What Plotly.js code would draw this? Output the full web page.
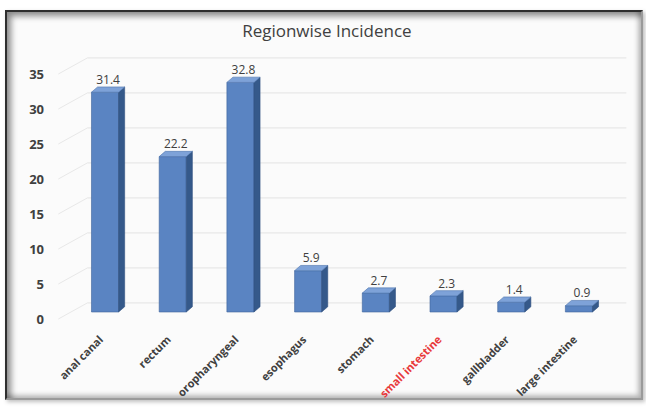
<!DOCTYPE html>
<html>
<head>
<meta charset="utf-8">
<script src="https://cdn.plot.ly/plotly-3.0.1.min.js"></script>
<style>
  html, body { margin: 0; padding: 0; background: #ffffff; }
  #wrap { position: relative; width: 646px; height: 408px; overflow: hidden; }
  #frame {
    position: absolute; left: 5px; top: 10px; width: 634px; height: 386px;
    border-left: 2px solid #2e2e2e; border-top: 2px solid #2e2e2e;
    border-right: 2px solid #9a9a9a; border-bottom: 2px solid #9a9a9a;
    background: #fbfbfb;
    box-shadow: inset 4px 4px 6px rgba(0,0,0,0.45), inset -3px -3px 5px rgba(0,0,0,0.25), 2px 2px 4px rgba(0,0,0,0.25);
  }
  #chart { position: absolute; left: 0; top: 0; width: 646px; height: 408px; }
</style>
</head>
<body>
<div id="wrap">
  <div id="frame"></div>
  <div id="chart"></div>
</div>
<script>
// ---- data ----
const categories = ["anal canal", "rectum", "oropharyngeal", "esophagus", "stomach", "small intestine", "gallbladder", "large intestine"];
const values = [31.4, 22.2, 32.8, 5.9, 2.7, 2.3, 1.4, 0.9];
const valueLabels = ["31.4", "22.2", "32.8", "5.9", "2.7", "2.3", "1.4", "0.9"];
const yTickValues = [0, 5, 10, 15, 20, 25, 30, 35];
const yTickLabels = ["0", "5", "10", "15", "20", "25", "30", "35"];
const highlightCategory = "small intestine";

// ---- 3D look parameters (styling) ----
const halfW = 0.2;     // half width of bar front face (x units)
const depthX = 0.09;   // depth offset in x
const depthY = 0.75;   // depth offset in y
const wallY = 1.3;     // back-wall offset of gridlines
const idx = categories.map((c, i) => i);

// side faces and top faces built from values
const sideX = [], sideY = [], topX = [], topY = [];
idx.forEach(i => {
  const v = values[i];
  sideX.push(i + halfW, i + halfW + depthX, i + halfW + depthX, i + halfW, i + halfW, null);
  sideY.push(0, depthY, v + depthY, v, 0, null);
  topX.push(i - halfW, i + halfW, i + halfW + depthX, i - halfW + depthX, i - halfW, null);
  topY.push(v, v, v + depthY, v + depthY, v, null);
});

const xMin = -0.739, xMax = 7.843;
const FONT = "'Open Sans', Lato, sans-serif";

// back-wall gridlines with perspective stub (layout shapes, behind traces)
const shapes = [];
yTickValues.forEach(v => {
  shapes.push({type: "line", xref: "x", yref: "y", layer: "below",
    x0: -0.26, x1: 7.7, y0: v + wallY, y1: v + wallY,
    line: {color: "#e4e4e4", width: 1}});
  shapes.push({type: "line", xref: "x", yref: "y", layer: "below",
    x0: -0.69, x1: -0.26, y0: v - 1.0, y1: v + wallY,
    line: {color: "#e8e8e8", width: 1}});
});

const tickText = categories.map(c => c === highlightCategory ? '<span style="color:#e8393b">' + c + '</span>' : c);

const traces = [
  {
    type: "bar", x: idx, y: values, width: halfW * 2,
    marker: {
      color: "#5a84c2",
      line: {color: "#3f649c", width: 0.6}
    },
    hoverinfo: "skip", showlegend: false
  },
  {
    type: "scatter", mode: "lines", x: sideX, y: sideY, fill: "toself",
    fillcolor: "#35598a", line: {color: "#2f5081", width: 0.6},
    hoverinfo: "skip", showlegend: false
  },
  {
    type: "scatter", mode: "lines", x: topX, y: topY, fill: "toself",
    fillcolor: "#7ea2d8", line: {color: "#4d74ad", width: 0.6},
    hoverinfo: "skip", showlegend: false
  },
  {
    type: "scatter", mode: "text", x: idx.map(i => i + depthX / 2), y: values.map(v => v + depthY),
    text: valueLabels, textposition: "top center",
    textfont: {family: FONT, size: 12, color: "#404040"},
    cliponaxis: false, hoverinfo: "skip", showlegend: false
  }
];

const layout = {
  width: 646, height: 408,
  margin: {l: 55, r: 10, t: 40, b: 86},
  paper_bgcolor: "rgba(0,0,0,0)",
  plot_bgcolor: "rgba(0,0,0,0)",
  showlegend: false,
  title: {
    text: "Regionwise Incidence",
    x: 0.506, xanchor: "center", y: 0.925, yanchor: "middle",
    font: {family: FONT, size: 17, color: "#404040"}
  },
  xaxis: {
    range: [xMin, xMax],
    tickvals: idx, ticktext: tickText,
    tickangle: -45,
    showgrid: false, zeroline: false, showline: false, ticks: "",
    ticklabelstandoff: 8, ticklabelshift: -5,
    tickfont: {family: FONT, size: 11, color: "#404040", weight: "bold"},
    fixedrange: true
  },
  yaxis: {
    range: [-1.4286, 38.857],
    tickvals: yTickValues, ticktext: yTickLabels,
    showgrid: false, zeroline: false, showline: false, ticks: "",
    ticklabelshift: 7, ticklabelstandoff: 10,
    tickfont: {family: FONT, size: 13, color: "#404040", weight: "bold"},
    fixedrange: true
  },
  shapes: shapes
};

Plotly.newPlot("chart", traces, layout, {displayModeBar: false, staticPlot: true});
</script>
</body>
</html>
